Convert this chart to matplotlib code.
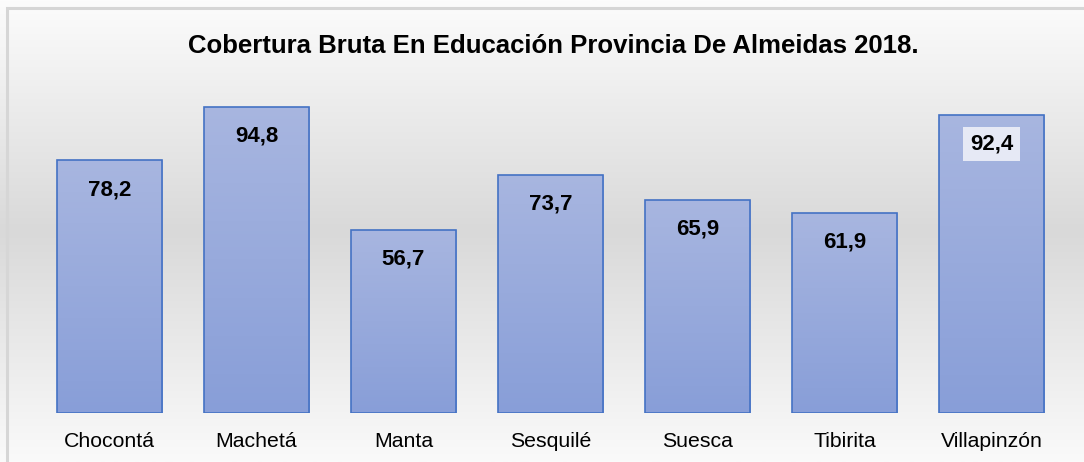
import numpy as np
import matplotlib.pyplot as plt
from matplotlib.colors import LinearSegmentedColormap
from matplotlib.patches import Rectangle

municipios = ['Chocontá', 'Machetá', 'Manta', 'Sesquilé', 'Suesca', 'Tibirita', 'Villapinzón']
cobertura = [78.2, 94.8, 56.7, 73.7, 65.9, 61.9, 92.4]
etiquetas = ['78,2', '94,8', '56,7', '73,7', '65,9', '61,9', '92,4']
titulo = 'Cobertura Bruta En Educación Provincia De Almeidas 2018.'

plt.rcParams['font.family'] = ['Liberation Sans', 'DejaVu Sans']

W, H = 1084, 462
fig = plt.figure(figsize=(W / 100, H / 100), dpi=100)

# background gradient (white -> gray -> white)
bg = fig.add_axes([0, 0, 1, 1], zorder=0)
bg_cmap = LinearSegmentedColormap.from_list(
    'bg', [(0, '#fcfcfc'), (0.5, '#d9d9d9'), (1, '#fafafa')])
grad = np.linspace(0, 1, 256).reshape(-1, 1)
bg.imshow(grad, cmap=bg_cmap, aspect='auto', extent=[0, 1, 0, 1], origin='upper')
bg.set_xlim(0, 1)
bg.set_ylim(0, 1)
bg.axis('off')
# chart border (top and left visible)
bg.add_patch(Rectangle((6.5 / W, -0.1), 1.2, (H - 7.5) / H + 0.1,
                       fill=False, edgecolor='#d6d6d6', lw=2.2))

ax = fig.add_axes([36 / W, (H - 413) / H, (1065 - 36) / W, (413 - 90) / H], zorder=1)
ax.patch.set_alpha(0)

x = np.arange(len(municipios))
bars = ax.bar(x, cobertura, width=0.715, facecolor='none', edgecolor='#4472c4', lw=1.2, zorder=3)

bar_cmap = LinearSegmentedColormap.from_list('bar', ['#a8b6e0', '#889ed8'])
for b in bars:
    x0, w, h = b.get_x(), b.get_width(), b.get_height()
    im = ax.imshow(grad, cmap=bar_cmap, aspect='auto', extent=[x0, x0 + w, 0, h],
                   origin='upper', zorder=2)
    im.set_clip_path(b)

for i, (v, lab) in enumerate(zip(cobertura, etiquetas)):
    kw = {}
    if i == len(cobertura) - 1:
        kw['bbox'] = dict(boxstyle='square,pad=0.3', facecolor='#e6e9f5', edgecolor='none')
    ax.annotate(lab, (i, v), xytext=(0, -21), textcoords='offset points',
                ha='center', va='center', fontsize=16, fontweight='bold',
                color='#000000', zorder=4, **kw)

ax.set_xlim(-0.5, len(municipios) - 0.5)
ax.set_ylim(0, 100)
ax.set_xticks(x)
ax.set_xticklabels(municipios, fontsize=15.3, color='#000000')
ax.tick_params(axis='x', length=0, pad=13.5)
ax.set_yticks([])
for s in ax.spines.values():
    s.set_visible(False)

fig.text(553 / W, 1 - 46 / H, titulo, ha='center', va='center',
         fontsize=18.5, fontweight='bold', color='#000000')

fig.savefig('out.png', dpi=100)
